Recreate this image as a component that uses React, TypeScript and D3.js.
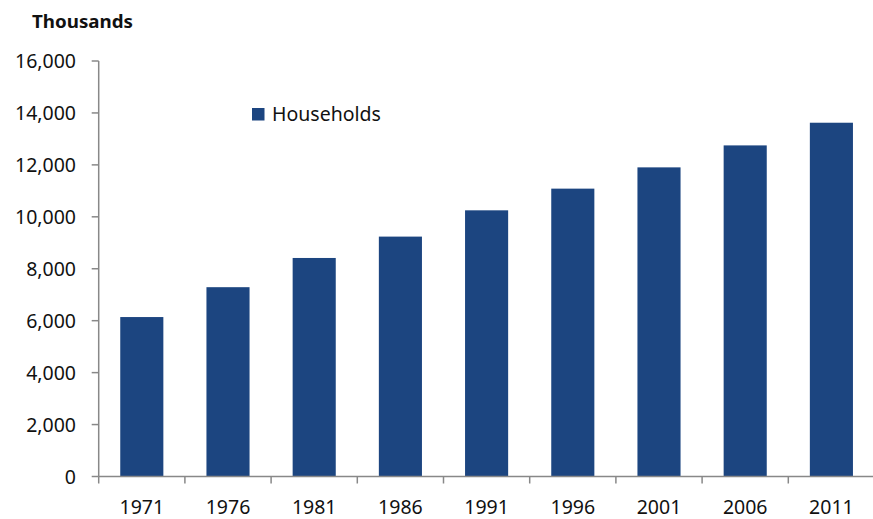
import React from "react";
import * as d3 from "d3";

const years = ["1971", "1976", "1981", "1986", "1991", "1996", "2001", "2006", "2011"];
const households = [6140, 7290, 8415, 9238, 10250, 11085, 11904, 12750, 13623];
const yTicks = [0, 2000, 4000, 6000, 8000, 10000, 12000, 14000, 16000];
const seriesName = "Households";
const unitLabel = "Thousands";

const W = 873;
const H = 519;
const left = 98.7;
const right = 874.5;
const top = 61;
const bottom = 476.5;
const barColor = "#1c4580";
const axisColor = "#888888";
const font = "'Noto Sans', 'Open Sans', sans-serif";

export default function App() {
  const x = d3.scaleBand<string>().domain(years).range([left, right]).paddingInner(0.5).paddingOuter(0.25);
  const y = d3.scaleLinear().domain([0, 16000]).range([bottom, top]);
  const fmt = d3.format(",");
  const step = x.step();

  return (
    <svg width={W} height={H} style={{ position: "absolute", left: 0, top: 0, background: "#fff" }}>
      <text x={32} y={28} fontFamily={font} fontWeight="bold" fontSize={18} fill="#111" textLength={101} lengthAdjust="spacingAndGlyphs">
        {unitLabel}
      </text>
      {years.map((yr, i) => (
        <rect
          key={yr}
          x={x(yr)}
          y={y(households[i])}
          width={x.bandwidth()}
          height={bottom - y(households[i])}
          fill={barColor}
        />
      ))}
      {/* y axis */}
      <line x1={left} x2={left} y1={top} y2={bottom} stroke={axisColor} strokeWidth={1.5} />
      {yTicks.map((t) => (
        <g key={t}>
          <line x1={left - 7} x2={left} y1={y(t)} y2={y(t)} stroke={axisColor} strokeWidth={1.5} />
          <text x={76} y={y(t)} dy="0.36em" textAnchor="end" fontFamily={font} fontSize={19.5} fill="#111">
            {fmt(t)}
          </text>
        </g>
      ))}
      {/* x axis */}
      <line x1={left} x2={right} y1={bottom} y2={bottom} stroke={axisColor} strokeWidth={1.5} />
      {years.map((yr, i) => (
        <line
          key={"t" + yr}
          x1={left + i * step}
          x2={left + i * step}
          y1={bottom}
          y2={bottom + 7}
          stroke={axisColor}
          strokeWidth={1.5}
        />
      ))}
      {years.map((yr) => (
        <text
          key={"l" + yr}
          x={(x(yr) as number) + x.bandwidth() / 2}
          y={514}
          textAnchor="middle"
          fontFamily={font}
          fontSize={19.5}
          fill="#111"
        >
          {yr}
        </text>
      ))}
      {/* legend */}
      <rect x={252} y={108} width={12.5} height={12.5} fill={barColor} />
      <text x={272} y={121} fontFamily={font} fontSize={19.5} fill="#111">
        {seriesName}
      </text>
    </svg>
  );
}
